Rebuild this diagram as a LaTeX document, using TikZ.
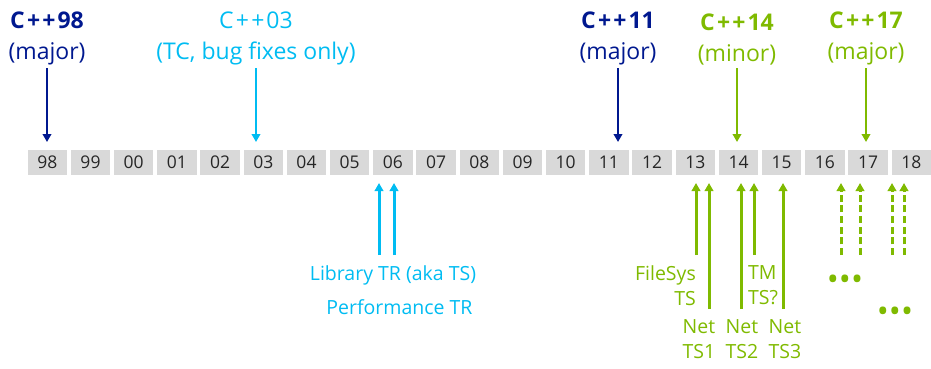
\documentclass[tikz,border=0pt]{standalone}
\usepackage{fontspec}
\setmainfont{Open Sans}
\usetikzlibrary{arrows.meta,positioning}
\definecolor{stdnavy}{HTML}{00188F}
\definecolor{stdcyan}{HTML}{00BCF2}
\definecolor{stdgreen}{HTML}{7FBA00}
\definecolor{yeargray}{HTML}{D9D9D9}
\newcommand{\cppname}[1]{C\kern2.2pt+\kern2.2pt+\kern2pt#1}

\begin{document}
\begin{tikzpicture}[
    x=1pt, y=-1pt,
    node distance=3.7pt,
    year/.style={fill=yeargray, minimum width=39.5pt, minimum height=25pt, inner sep=0pt, outer sep=0pt, text=black!85, font=\fontsize{17.5}{20}\selectfont},
    release/.style={align=center, inner xsep=0pt, inner ysep=3pt, font=\fontsize{23}{31}\selectfont},
    spec/.style={inner xsep=0pt, inner ysep=10pt, font=\fontsize{19.5}{25}\selectfont},
    relflow/.style={-{Triangle[length=8pt,width=8.5pt]}, line width=2.5pt, shorten >=8pt},
    tsflow/.style={-{Triangle[length=8pt,width=8.5pt]}, line width=3pt, shorten >=8pt},
    tsmore/.style={tsflow, dash pattern=on 7pt off 3.7pt}
]
\useasboundingbox (0,0) rectangle (931,368);
% year strip
\node[year] (y98) at (47.3,162.5) {98};
\node[year, right=of y98] (y99) {99};
\node[year, right=of y99] (y00) {00};
\node[year, right=of y00] (y01) {01};
\node[year, right=of y01] (y02) {02};
\node[year, right=of y02] (y03) {03};
\node[year, right=of y03] (y04) {04};
\node[year, right=of y04] (y05) {05};
\node[year, right=of y05] (y06) {06};
\node[year, right=of y06] (y07) {07};
\node[year, right=of y07] (y08) {08};
\node[year, right=of y08] (y09) {09};
\node[year, right=of y09] (y10) {10};
\node[year, right=of y10] (y11) {11};
\node[year, right=of y11] (y12) {12};
\node[year, right=of y12] (y13) {13};
\node[year, right=of y13] (y14) {14};
\node[year, right=of y14] (y15) {15};
\node[year, right=of y15] (y16) {16};
\node[year, right=of y16] (y17) {17};
\node[year, right=of y17] (y18) {18};
% standards
\node[release, text=stdnavy, anchor=south] (cpp98) at (47,68) {\textbf{\cppname{98}}\\(major)};
\node[release, text=stdcyan, anchor=south] (cpp03) at (256,68) {\cppname{03}\\(TC, bug fixes only)};
\node[release, text=stdnavy, anchor=south] (cpp11) at (618,68) {\textbf{\cppname{11}}\\(major)};
\node[release, text=stdgreen, anchor=south] (cpp14) at (737,68) {\textbf{\cppname{14}}\\(minor)};
\node[release, text=stdgreen, anchor=south] (cpp17) at (866,68) {\textbf{\cppname{17}}\\(major)};
\draw[relflow, stdnavy] (cpp98.south) -- (cpp98.south |- y98.north);
\draw[relflow, stdcyan] (cpp03.south) -- (cpp03.south |- y03.north);
\draw[relflow, stdnavy] (cpp11.south) -- (cpp11.south |- y11.north);
\draw[relflow, stdgreen] (cpp14.south) -- (cpp14.south |- y14.north);
\draw[relflow, stdgreen] (cpp17.south) -- (cpp17.south |- y17.north);
% technical reports and specifications
\node[spec, text=stdcyan, anchor=north] (libtr) at (393,255) {Library TR (aka TS)};
\node[spec, text=stdcyan, anchor=north] (perftr) at (399.5,289) {Performance TR};
\draw[tsflow, stdcyan] ([xshift=-14pt]libtr.north) -- ([xshift=-14pt]libtr.north |- y06.south);
\draw[tsflow, stdcyan] ([xshift=1pt]libtr.north) -- ([xshift=1pt]libtr.north |- y06.south);
\node[spec, text=stdgreen, align=right, anchor=north east] (fsts) at (696,255) {FileSys\\TS};
\node[spec, text=stdgreen, align=left, anchor=north west] (tmts) at (748,255) {TM\\TS?};
\node[spec, text=stdgreen, align=center, anchor=north] (netts1) at (699,309) {Net\\TS1};
\node[spec, text=stdgreen, align=center, anchor=north] (netts2) at (742,309) {Net\\TS2};
\node[spec, text=stdgreen, align=center, anchor=north] (netts3) at (785,309) {Net\\TS3};
\draw[tsflow, stdgreen] (fsts.north east) -- (fsts.north east |- y13.south);
\draw[tsflow, stdgreen] ([xshift=10pt]netts1.north) -- ([xshift=10pt]netts1.north |- y13.south);
\draw[tsflow, stdgreen] ([xshift=-1pt]netts2.north) -- ([xshift=-1pt]netts2.north |- y14.south);
\draw[tsflow, stdgreen] ([xshift=6pt]tmts.north west) -- ([xshift=6pt]tmts.north west |- y14.south);
\draw[tsflow, stdgreen] ([xshift=-2pt]netts3.north) -- ([xshift=-2pt]netts3.north |- y15.south);
% more to come
\node[text=stdgreen, inner sep=0pt, font=\fontsize{32}{32}\selectfont] (more1) at (845,283) {•••};
\node[text=stdgreen, inner sep=0pt, font=\fontsize{32}{32}\selectfont] (more2) at (895,315) {•••};
\coordinate (next1) at (841,255);
\coordinate (next2) at (860,255);
\coordinate (next3) at (892,255);
\coordinate (next4) at (904,255);
\draw[tsmore, stdgreen] (next1) -- (next1 |- y16.south);
\draw[tsmore, stdgreen] (next2) -- (next2 |- y17.south);
\draw[tsmore, stdgreen] (next3) -- (next3 |- y17.south);
\draw[tsmore, stdgreen] (next4) -- (next4 |- y18.south);
\end{tikzpicture}
\end{document}
